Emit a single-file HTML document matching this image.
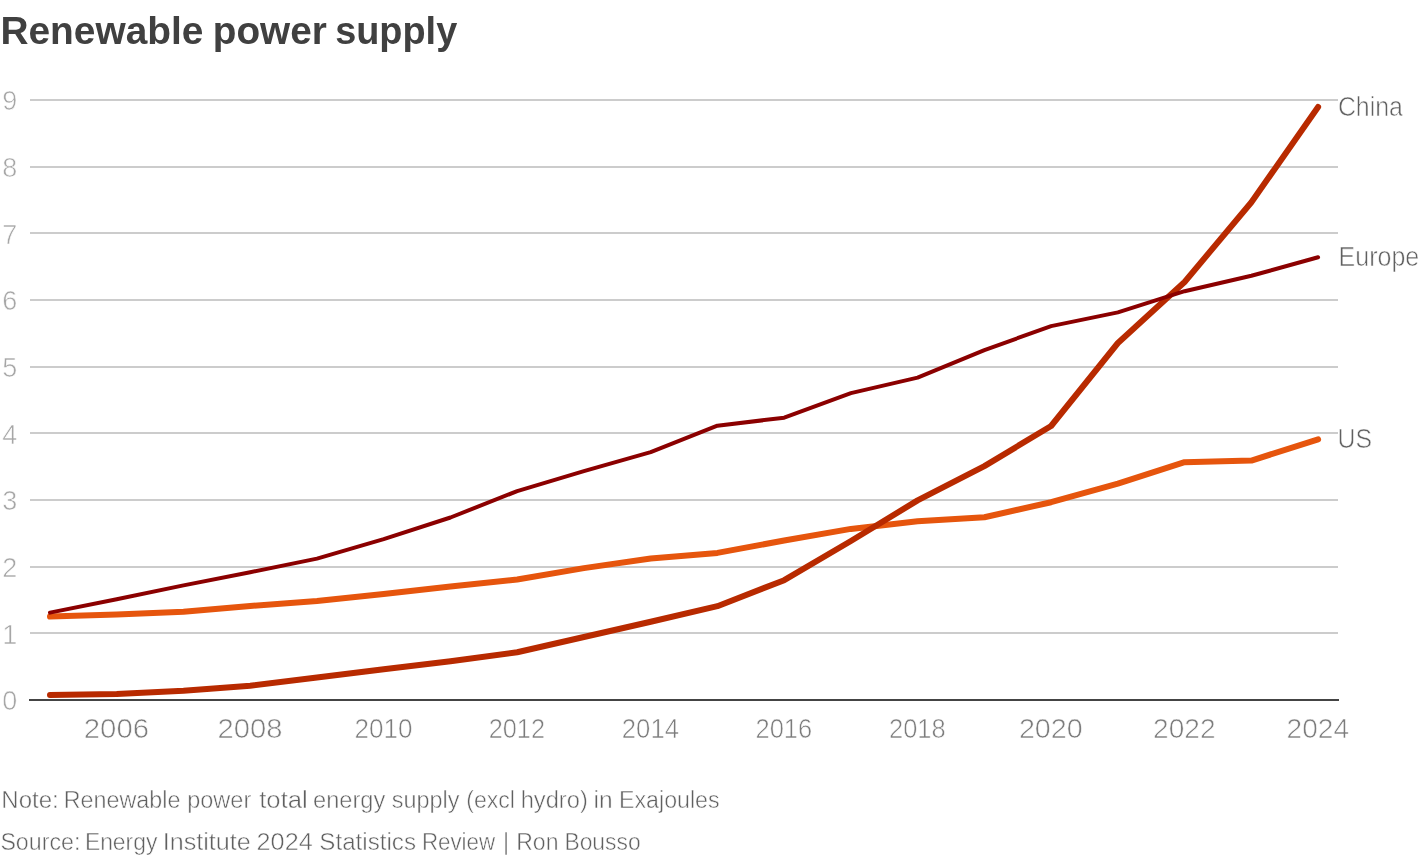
<!DOCTYPE html>
<html><head><meta charset="utf-8"><title>Renewable power supply</title>
<style>
html,body{margin:0;padding:0;background:#fff;}
svg{display:block;font-family:"Liberation Sans",sans-serif;}
</style></head><body>
<svg width="1420" height="858" viewBox="0 0 1420 858">
<rect width="1420" height="858" fill="#fff"/>
<g font-size="38" font-weight="bold" fill="#404040">
<text x="0.4" y="44.3" textLength="203" lengthAdjust="spacingAndGlyphs">Renewable</text>
<text x="212.8" y="44.3" textLength="114" lengthAdjust="spacingAndGlyphs">power</text>
<text x="335.2" y="44.3" textLength="122" lengthAdjust="spacingAndGlyphs">supply</text>
</g>
<g stroke="#cccccc" stroke-width="2" shape-rendering="crispEdges"><line x1="30" x2="1338" y1="633" y2="633"/><line x1="30" x2="1338" y1="567" y2="567"/><line x1="30" x2="1338" y1="500" y2="500"/><line x1="30" x2="1338" y1="433" y2="433"/><line x1="30" x2="1338" y1="367" y2="367"/><line x1="30" x2="1338" y1="300" y2="300"/><line x1="30" x2="1338" y1="233" y2="233"/><line x1="30" x2="1338" y1="167" y2="167"/><line x1="30" x2="1338" y1="100" y2="100"/></g>
<line x1="29" x2="1339" y1="700" y2="700" stroke="#444444" stroke-width="2" shape-rendering="crispEdges"/>
<g font-size="27" fill="#a6a6a6" stroke="#fff" stroke-width="0.6"><text x="17.4" y="710.20" text-anchor="end">0</text><text x="17.4" y="643.53" text-anchor="end">1</text><text x="17.4" y="576.87" text-anchor="end">2</text><text x="17.4" y="510.20" text-anchor="end">3</text><text x="17.4" y="443.53" text-anchor="end">4</text><text x="17.4" y="376.87" text-anchor="end">5</text><text x="17.4" y="310.20" text-anchor="end">6</text><text x="17.4" y="243.53" text-anchor="end">7</text><text x="17.4" y="176.87" text-anchor="end">8</text><text x="17.4" y="110.20" text-anchor="end">9</text></g>
<g font-size="27" fill="#7c7c7c" stroke="#fff" stroke-width="0.6"><text x="83.8" y="738.4" textLength="65.3" lengthAdjust="spacingAndGlyphs">2006</text><text x="217.5" y="738.4" textLength="64.9" lengthAdjust="spacingAndGlyphs">2008</text><text x="354.4" y="738.4" textLength="58.1" lengthAdjust="spacingAndGlyphs">2010</text><text x="488.7" y="738.4" textLength="56.3" lengthAdjust="spacingAndGlyphs">2012</text><text x="621.8" y="738.4" textLength="57.2" lengthAdjust="spacingAndGlyphs">2014</text><text x="755.5" y="738.4" textLength="56.7" lengthAdjust="spacingAndGlyphs">2016</text><text x="889.0" y="738.4" textLength="56.7" lengthAdjust="spacingAndGlyphs">2018</text><text x="1018.9" y="738.4" textLength="63.9" lengthAdjust="spacingAndGlyphs">2020</text><text x="1153.1" y="738.4" textLength="62.4" lengthAdjust="spacingAndGlyphs">2022</text><text x="1286.6" y="738.4" textLength="62.4" lengthAdjust="spacingAndGlyphs">2024</text></g>
<g fill="none" stroke-linecap="round" stroke-linejoin="round">
<polyline points="50.0,616.6 116.7,614.6 183.5,611.8 250.2,606.0 317.0,600.9 383.7,594.1 450.5,586.6 517.2,579.5 583.9,568.1 650.7,558.5 717.4,552.9 784.2,540.5 850.9,528.9 917.6,521.2 984.4,517.2 1051.1,502.2 1117.9,483.6 1184.6,462.2 1251.4,460.6 1318.1,439.3" stroke="#e6550d" stroke-width="6"/>
<polyline points="50.0,695.0 116.7,693.9 183.5,690.8 250.2,685.8 317.0,677.5 383.7,669.3 450.5,661.2 517.2,652.2 583.9,637.0 650.7,621.8 717.4,606.2 784.2,580.2 850.9,541.0 917.6,500.4 984.4,466.1 1051.1,426.0 1117.9,343.0 1184.6,282.0 1251.4,202.2 1318.1,107.0" stroke="#b82a00" stroke-width="6"/>
<polyline points="50.0,612.6 116.7,599.3 183.5,585.4 250.2,572.2 317.0,558.6 383.7,539.2 450.5,517.5 517.2,491.1 583.9,471.2 650.7,452.2 717.4,425.7 784.2,417.7 850.9,393.1 917.6,377.6 984.4,350.1 1051.1,326.1 1117.9,312.4 1184.6,291.2 1251.4,275.8 1318.1,257.2" stroke="#8b0000" stroke-width="4"/>
</g>
<g font-size="26.8" fill="#606060" stroke="#fff" stroke-width="0.6">
<text x="1337.9" y="116" textLength="65" lengthAdjust="spacingAndGlyphs">China</text>
<text x="1338.6" y="265.9" textLength="80.6" lengthAdjust="spacingAndGlyphs">Europe</text>
<text x="1337.6" y="448.1" textLength="34.5" lengthAdjust="spacingAndGlyphs">US</text>
</g>
<g font-size="23.5" fill="#606060" stroke="#fff" stroke-width="0.5"><text x="1.3" y="808.3" textLength="57.5" lengthAdjust="spacingAndGlyphs">Note:</text><text x="63.8" y="808.3" textLength="116.6" lengthAdjust="spacingAndGlyphs">Renewable</text><text x="187.2" y="808.3" textLength="64.1" lengthAdjust="spacingAndGlyphs">power</text><text x="259.2" y="808.3" textLength="48.6" lengthAdjust="spacingAndGlyphs">total</text><text x="313.0" y="808.3" textLength="72.2" lengthAdjust="spacingAndGlyphs">energy</text><text x="391.8" y="808.3" textLength="67.7" lengthAdjust="spacingAndGlyphs">supply</text><text x="466.3" y="808.3" textLength="48.7" lengthAdjust="spacingAndGlyphs">(excl</text><text x="520.7" y="808.3" textLength="67.1" lengthAdjust="spacingAndGlyphs">hydro)</text><text x="593.6" y="808.3" textLength="19.1" lengthAdjust="spacingAndGlyphs">in</text><text x="619.0" y="808.3" textLength="100.6" lengthAdjust="spacingAndGlyphs">Exajoules</text><text x="0.4" y="849.8" textLength="80.0" lengthAdjust="spacingAndGlyphs">Source:</text><text x="84.9" y="849.8" textLength="72.5" lengthAdjust="spacingAndGlyphs">Energy</text><text x="162.7" y="849.8" textLength="88.1" lengthAdjust="spacingAndGlyphs">Institute</text><text x="256.6" y="849.8" textLength="56.1" lengthAdjust="spacingAndGlyphs">2024</text><text x="319.3" y="849.8" textLength="96.7" lengthAdjust="spacingAndGlyphs">Statistics</text><text x="421.9" y="849.8" textLength="73.2" lengthAdjust="spacingAndGlyphs">Review</text><text x="503.0" y="849.8" textLength="6.1" lengthAdjust="spacingAndGlyphs">|</text><text x="516.2" y="849.8" textLength="42.3" lengthAdjust="spacingAndGlyphs">Ron</text><text x="564.4" y="849.8" textLength="76.2" lengthAdjust="spacingAndGlyphs">Bousso</text></g>
</svg>
</body></html>
